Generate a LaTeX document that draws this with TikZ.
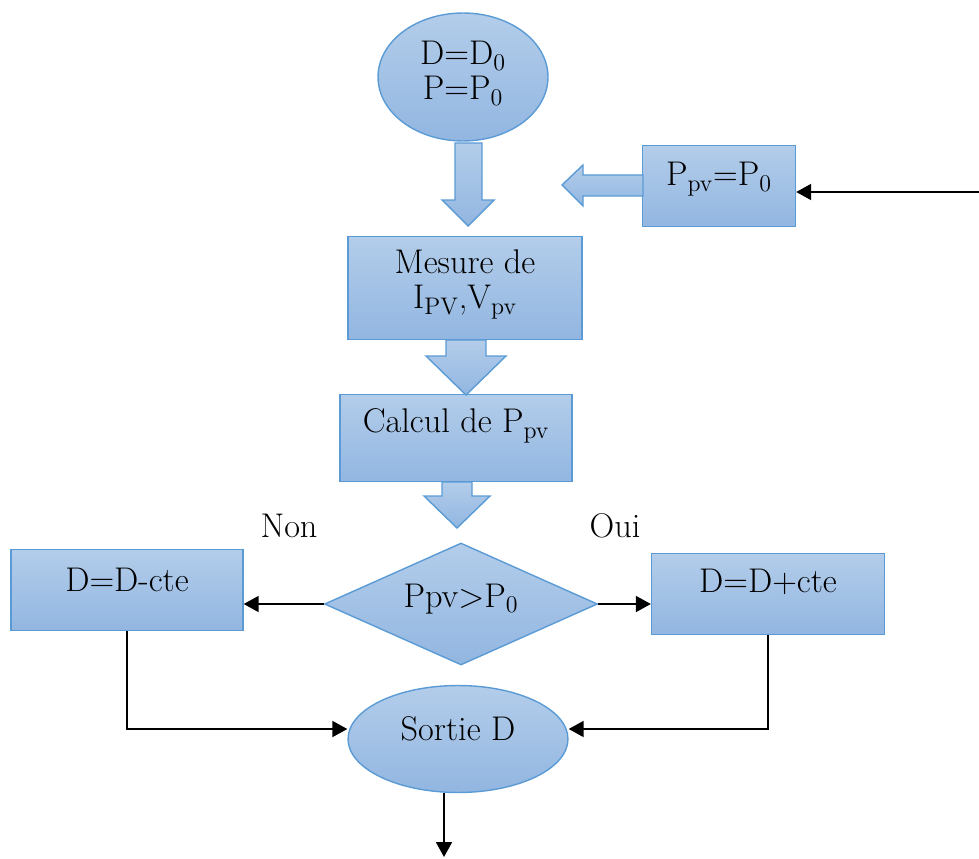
\documentclass[tikz,border=0pt]{standalone}
\usetikzlibrary{arrows.meta,shapes.geometric,calc}
\definecolor{boxtop}{HTML}{B3CDEA}
\definecolor{boxbot}{HTML}{92B6E1}
\definecolor{boxline}{HTML}{5B9BD5}
\begin{document}
\begin{tikzpicture}[x=0.02cm,y=-0.02cm,
  font=\fontsize{19.5}{20}\selectfont,
  bluefill/.style={draw=boxline,top color=boxtop,bottom color=boxbot,line width=0.8pt},
  box/.style={bluefill,rectangle,inner sep=0pt},
  ell/.style={bluefill,ellipse,inner sep=0pt},
  dia/.style={bluefill,diamond,inner sep=0pt},
  barr/.style={bluefill,line join=miter},
  arr/.style={-{Triangle[length=3mm,width=3.2mm]},line width=1.1pt}
]
\useasboundingbox (0,0) rectangle (979,858);
% main column
\node[ell,minimum width=3.4cm,minimum height=2.56cm,
      label={[align=center,yshift=2pt]center:D=D\textsubscript{0}\\P=P\textsubscript{0}}] (init) at (463,77) {};
\node[box,minimum width=4.68cm,minimum height=2.06cm,
      label={[align=center,yshift=2pt]center:Mesure de\\I\textsubscript{PV},V\textsubscript{pv}}] (mes) at (465,288) {};
\node[box,minimum width=4.64cm,minimum height=1.74cm,
      label={[yshift=7pt]center:Calcul de P\textsubscript{pv}}] (calc) at (456,438) {};
\node[dia,minimum width=5.46cm,minimum height=2.44cm,
      label={[yshift=3pt]center:Ppv>P\textsubscript{0}}] (test) at (461,604) {};
\node[ell,minimum width=4.4cm,minimum height=2.14cm,
      label={[yshift=6pt]center:Sortie D}] (out) at (458,739) {};

% side boxes
\node[box,minimum width=3.06cm,minimum height=1.62cm,
      label={[yshift=4pt]center:P\textsubscript{pv}=P\textsubscript{0}}] (reset) at (719,186) {};
\node[box,minimum width=4.64cm,minimum height=1.62cm,
      label={[yshift=6pt]center:D=D-cte}] (minus) at (127,590) {};
\node[box,minimum width=4.66cm,minimum height=1.62cm,
      label={[yshift=7pt]center:D=D+cte}] (plus) at (768,594) {};
\node (non) at (289,526) {Non};
\node (oui) at (615,526) {Oui};

% block arrows
\draw[barr] (455,143) -- (482,143) -- (482,200) -- (494,200) -- (468,226) -- (442,200) -- (455,200) -- cycle;
\draw[barr] (446,340) -- (486,340) -- (486,356) -- (506,356) -- (466,395) -- (426,356) -- (446,356) -- cycle;
\draw[barr] (442,482) -- (472,482) -- (472,496) -- (490,496) -- (457,528) -- (424,496) -- (442,496) -- cycle;
\draw[barr] (643,175) -- (583,175) -- (583,165) -- (562,185) -- (583,206) -- (583,196) -- (643,196) -- cycle;

% connectors
\coordinate (in) at (979,192);
\coordinate (end) at (444,857);
\draw[arr] (in) -- (in -| reset.east);
\draw[arr] (test.west) -- (minus.east |- test.west);
\draw[arr] (test.east) -- (plus.west |- test.east);
\draw[arr] (minus.south) |- ($(out.west)+(0,-10)$);
\draw[arr] (plus.south) |- ($(out.east)+(0,-10)$);
\draw[arr] (out.south -| end) -- (end);
\end{tikzpicture}
\end{document}
